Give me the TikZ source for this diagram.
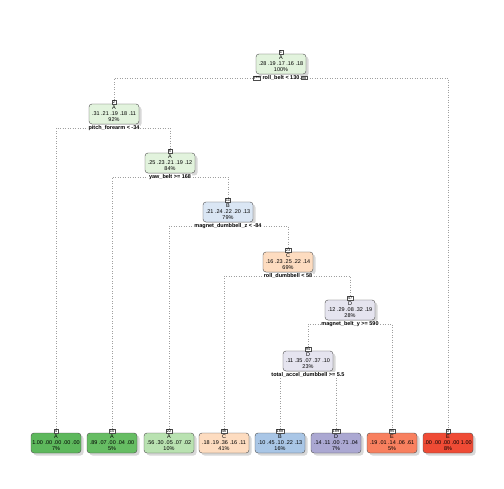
\documentclass[tikz,border=0pt]{standalone}
\usepackage{fontspec}
\setmainfont{Liberation Sans}
\usetikzlibrary{shadows, backgrounds}
\definecolor{gA}{HTML}{E2F3DD}
\definecolor{gAa}{HTML}{5DB85C}
\definecolor{gAb}{HTML}{66BD63}
\definecolor{gAc}{HTML}{B9E2B1}
\definecolor{bB}{HTML}{DAE6F4}
\definecolor{bBb}{HTML}{A9C6E6}
\definecolor{oC}{HTML}{FDDCC0}
\definecolor{pD}{HTML}{E5E4EF}
\definecolor{pDb}{HTML}{ABA8D2}
\definecolor{rEa}{HTML}{F8805F}
\definecolor{rEb}{HTML}{EF4B35}

\begin{document}
\begin{tikzpicture}[x=1pt, y=-1pt,
  box/.style={draw=gray!60!black, rounded corners=3pt, minimum width=50pt,
    minimum height=20pt, inner sep=0pt, align=center,
    font=\fontsize{5.5}{6}\selectfont,
    drop shadow={shadow xshift=2.5pt, shadow yshift=-2.5pt, fill=gray!60, opacity=0.5}},
  split/.style={fill=white, inner sep=0.6pt, font=\fontsize{5.5}{6}\selectfont\bfseries},
  num/.style={draw=gray!60!black, fill=white, inner sep=0.6pt, font=\fontsize{4}{4}\selectfont},
  link/.style={gray!75, dotted, line width=0.5pt}]
\useasboundingbox (0,0) rectangle (504,489);

% inner nodes
\node[box, fill=gA] (n1) at (281,64) {A\\.28 .19 .17 .16 .18\\100\%};
\node[box, fill=gA] (n2) at (114,114) {A\\.31 .21 .19 .18 .11\\92\%};
\node[box, fill=gA] (n5) at (170,163) {A\\.25 .23 .21 .19 .12\\84\%};
\node[box, fill=bB] (n11) at (228,212) {B\\.21 .24 .22 .20 .13\\79\%};
\node[box, fill=oC] (n23) at (288,262) {C\\.16 .23 .25 .22 .14\\69\%};
\node[box, fill=pD] (n47) at (350,310) {D\\.12 .29 .08 .32 .19\\28\%};
\node[box, fill=pD] (n94) at (308,361) {D\\.11 .35 .07 .37 .10\\23\%};

% leaves
\node[box, fill=gAa] (n4) at (56,443) {A\\1.00 .00 .00 .00 .00\\7\%};
\node[box, fill=gAb] (n10) at (112,443) {A\\.89 .07 .00 .04 .00\\5\%};
\node[box, fill=gAc] (n22) at (169,443) {A\\.56 .30 .05 .07 .02\\10\%};
\node[box, fill=oC] (n46) at (224,443) {C\\.18 .19 .36 .16 .11\\41\%};
\node[box, fill=bBb] (n188) at (280,443) {B\\.10 .45 .10 .22 .13\\16\%};
\node[box, fill=pDb] (n189) at (336,443) {D\\.14 .11 .00 .71 .04\\7\%};
\node[box, fill=rEa] (n95) at (392,443) {E\\.19 .01 .14 .06 .61\\5\%};
\node[box, fill=rEb] (n3) at (448,443) {E\\.00 .00 .00 .00 1.00\\8\%};

% node numbers
\foreach \k in {1,2,5,11,23,47,94,4,10,22,46,188,189,95,3}
  \node[num, anchor=south] (k\k) at ([yshift=-0.4pt]n\k.north) {\k};

% split labels
\node[split] (s1) at (281,78) {roll\_belt < 130};
\node[split] (s2) at (114,128) {pitch\_forearm < -34};
\node[split] (s5) at (170,177) {yaw\_belt >= 168};
\node[split] (s11) at (228,226) {magnet\_dumbbell\_z < -84};
\node[split] (s23) at (288,276) {roll\_dumbbell < 58};
\node[split] (s47) at (350,324) {magnet\_belt\_y >= 590};
\node[split] (s94) at (308,375) {total\_accel\_dumbbell >= 5.5};
\node[num, anchor=east] (yes) at ([xshift=-1pt]s1.west) {yes};
\node[num, anchor=west] (no) at ([xshift=1pt]s1.east) {no};

% connectors
\begin{pgfonlayer}{background}
\fill[white] (0,0) rectangle (504,489);
\draw[link] (k2.north) |- (s1.center) -| (k3.north);
\draw[link] (k4.north) |- (s2.center) -| (k5.north);
\draw[link] (k10.north) |- (s5.center) -| (k11.north);
\draw[link] (k22.north) |- (s11.center) -| (k23.north);
\draw[link] (k46.north) |- (s23.center) -| (k47.north);
\draw[link] (k94.north) |- (s47.center) -| (k95.north);
\draw[link] (k188.north) |- (s94.center) -| (k189.north);
\end{pgfonlayer}
\end{tikzpicture}
\end{document}
